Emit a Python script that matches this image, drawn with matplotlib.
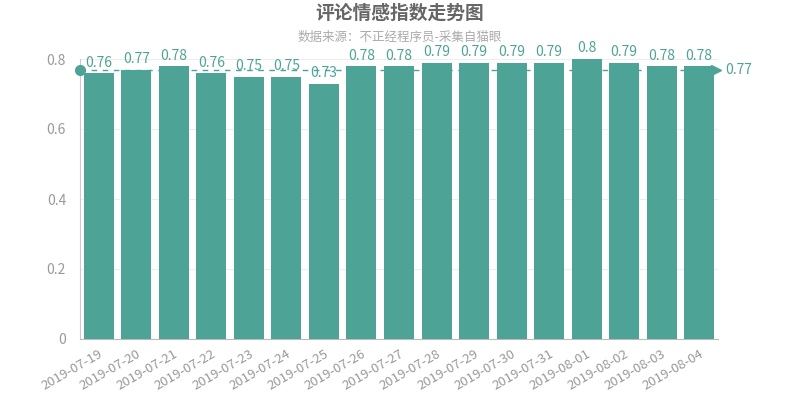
import numpy as np
import matplotlib
matplotlib.use("Agg")
import matplotlib.pyplot as plt

plt.rcParams['font.family'] = ['Noto Sans CJK SC', 'DejaVu Sans']

# 数据
dates = ['2019-07-19', '2019-07-20', '2019-07-21', '2019-07-22', '2019-07-23',
         '2019-07-24', '2019-07-25', '2019-07-26', '2019-07-27', '2019-07-28',
         '2019-07-29', '2019-07-30', '2019-07-31', '2019-08-01', '2019-08-02',
         '2019-08-03', '2019-08-04']
scores = [0.76, 0.77, 0.78, 0.76, 0.75, 0.75, 0.73, 0.78, 0.78, 0.79,
          0.79, 0.79, 0.79, 0.8, 0.79, 0.78, 0.78]
y_ticks = [0, 0.2, 0.4, 0.6, 0.8]
y_tick_labels = ['0', '0.2', '0.4', '0.6', '0.8']

title = '评论情感指数走势图'
subtitle = '数据来源：不正经程序员-采集自猫眼'

BAR_COLOR = '#4ea397'
avg = round(float(np.mean(scores)), 2)

fig = plt.figure(figsize=(8, 4), dpi=100)
ax = fig.add_axes([0.1, 0.1525, 0.7975, 0.70])

x = np.arange(len(dates))
ax.bar(x, scores, width=0.8, color=BAR_COLOR, zorder=3)

for xi, v in zip(x, scores):
    ax.text(xi, v + 0.01, f'{v:g}', ha='center', va='bottom',
            fontsize=10, color=BAR_COLOR, zorder=5)

ax.set_xlim(-0.5, len(dates) - 0.5)
ax.set_ylim(0, 0.8)
ax.set_yticks(y_ticks)
ax.set_yticklabels(y_tick_labels)
ax.set_xticks(x)
ax.set_xticklabels(dates, rotation=30, ha='right', rotation_mode='anchor')

ax.tick_params(axis='both', length=0, colors='#999999', labelsize=9.5)
ax.tick_params(axis='y', labelsize=10, pad=10)
ax.tick_params(axis='x', pad=6)
ax.grid(axis='y', color='#eeeeee', linewidth=0.8, zorder=0)

for side in ['top', 'right']:
    ax.spines[side].set_visible(False)
ax.spines['left'].set_color('#cccccc')
ax.spines['bottom'].set_color('#bbbbbb')

# 平均线
ax.plot([-0.5, len(dates) - 0.62], [avg, avg], linestyle=(0, (4, 4)),
        color=BAR_COLOR, linewidth=1, zorder=4, clip_on=False)
ax.plot([-0.5], [avg], 'o', color=BAR_COLOR, markersize=7, zorder=6, clip_on=False)
ax.plot([len(dates) - 0.55], [avg], marker='>', color=BAR_COLOR, markersize=7,
        zorder=6, clip_on=False)
ax.text(len(dates) - 0.3, avg, f'{avg:g}', ha='left', va='center',
        fontsize=10, color=BAR_COLOR)

fig.text(0.5, 0.968, title, ha='center', va='center', fontsize=13.5,
         fontweight='bold', color='#666666')
fig.text(0.5, 0.907, subtitle, ha='center', va='center', fontsize=9,
         color='#aaaaaa')

fig.savefig('out.png', dpi=100)
